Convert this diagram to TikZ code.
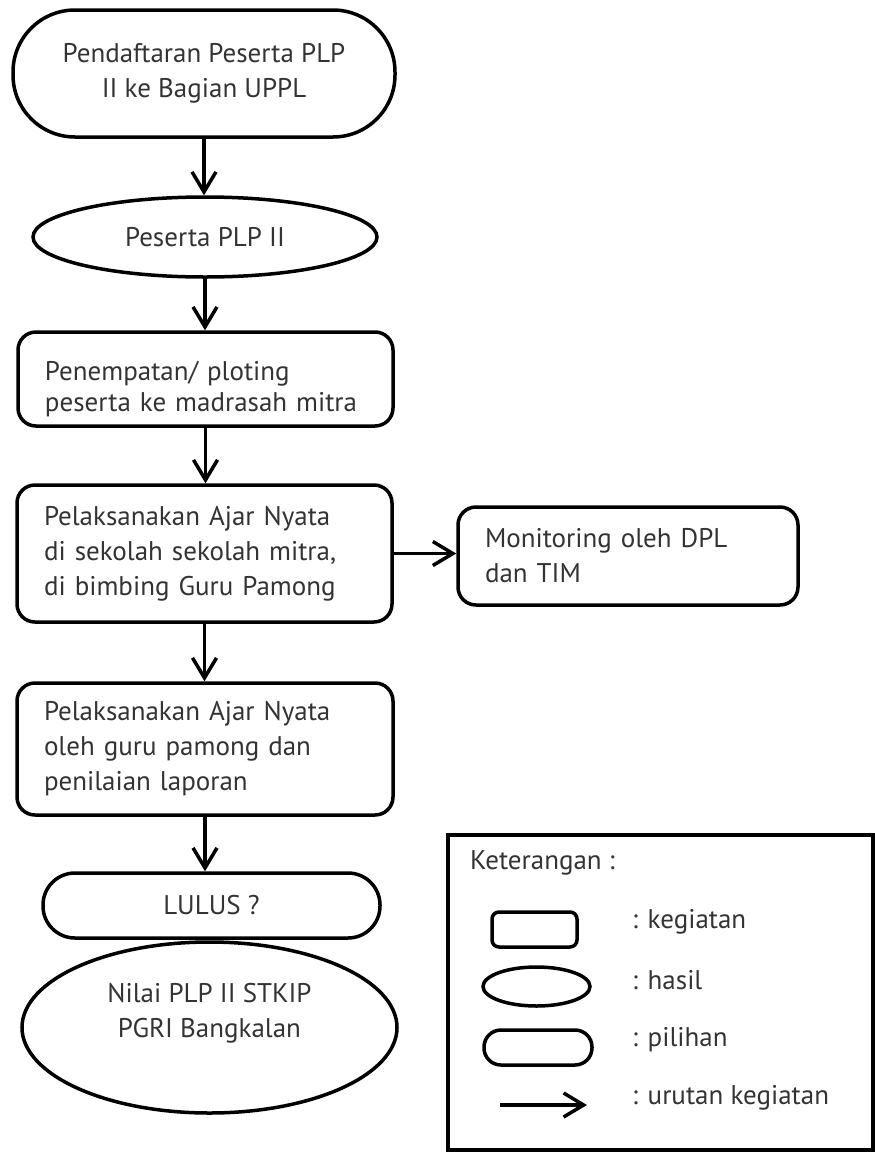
\documentclass[tikz,border=0pt]{standalone}
\usepackage{fontspec}
\setmainfont{PT Sans}
\usetikzlibrary{shapes.geometric,arrows.meta}
\definecolor{txtgray}{HTML}{333333}
\tikzset{
  every node/.style={font=\fontsize{27}{35}\selectfont, text=txtgray},
  kegiatan/.style={draw, line width=3.5pt, rounded corners=18pt, align=left, inner xsep=27pt, inner ysep=0pt},
  hasil/.style={draw, ellipse, line width=3.5pt, inner sep=0pt, align=center},
  pilihan/.style={draw, line width=3.5pt, inner sep=0pt, align=center},
  urutan/.style={-{Straight Barb[length=20pt,width=24pt]}, line width=3.5pt},
  legtext/.style={anchor=west, inner sep=0pt},
}
\begin{document}
\begin{tikzpicture}[x=1pt, y=-1pt]
\useasboundingbox (0,0) rectangle (875,1152);
% main flow
\node [pilihan, rounded corners=62pt, minimum width=382pt, minimum height=127pt] (daftar) at (204,73.5)
      {Pendaftaran Peserta PLP\\II ke Bagian UPPL};
\node [hasil, minimum width=344pt, minimum height=80pt] (peserta) at (205,237) {Peserta PLP II};
\node [kegiatan, text width=321pt, minimum height=94pt,
       label={[yshift=-10pt, align=left, text width=321pt, font=\fontsize{27}{31}\selectfont]center:Penempatan/ ploting\\peserta ke madrasah mitra}] (ploting) at (205.5,379) {};
\node [kegiatan, text width=321pt, minimum height=137pt] (ajar) at (204.5,553.5)
      {Pelaksanakan Ajar Nyata\\di sekolah sekolah mitra,\\di bimbing Guru Pamong};
\node [kegiatan, text width=286pt, minimum height=98pt] (monitor) at (628,556)
      {Monitoring oleh DPL\\dan TIM};
\node [kegiatan, text width=322pt, minimum height=132pt] (nilai) at (205,749)
      {Pelaksanakan Ajar Nyata\\oleh guru pamong dan\\penilaian laporan};
\node [hasil, minimum width=375pt, minimum height=171pt,
       label={[yshift=14pt, align=center]center:Nilai PLP II STKIP\\PGRI Bangkalan}] (hasilakhir) at (209.5,1027.5) {};
\node [pilihan, rounded corners=32pt, minimum width=337pt, minimum height=65pt] (lulus) at (211.5,905.5) {LULUS ?};
\draw [urutan] (daftar.south) -- (daftar.south |- peserta.north);
\draw [urutan] (peserta.south) -- (peserta.south |- ploting.north);
\draw [urutan] (ploting.south) -- (ploting.south |- ajar.north);
\draw [urutan] (ajar.east) -- (ajar.east -| monitor.west);
\draw [urutan] (ajar.south) -- (ajar.south |- nilai.north);
\draw [urutan] (nilai.south) -- (nilai.south |- lulus.north);
% keterangan
\draw [line width=3.5pt] (448,835) rectangle (873,1150);
\node [legtext] (ket) at (470,863) {Keterangan :};
\node [pilihan, rounded corners=7pt, minimum width=85pt, minimum height=35pt] (legkegiatan) at (534.5,929.5) {};
\node [hasil, minimum width=107pt, minimum height=39pt] (leghasil) at (536.5,986.5) {};
\node [pilihan, rounded corners=17pt, minimum width=108pt, minimum height=35pt] (legpilihan) at (538,1047.5) {};
\coordinate (legfrom) at (500,1105);
\coordinate (legto) at (587,1105);
\draw [urutan] (legfrom) -- (legto);
\node [legtext] (tkegiatan) at (632,922) {: kegiatan};
\node [legtext] (thasil) at (632,980) {: hasil};
\node [legtext] (tpilihan) at (632,1040) {: pilihan};
\node [legtext] (turutan) at (632,1098) {: urutan kegiatan};
\end{tikzpicture}
\end{document}
